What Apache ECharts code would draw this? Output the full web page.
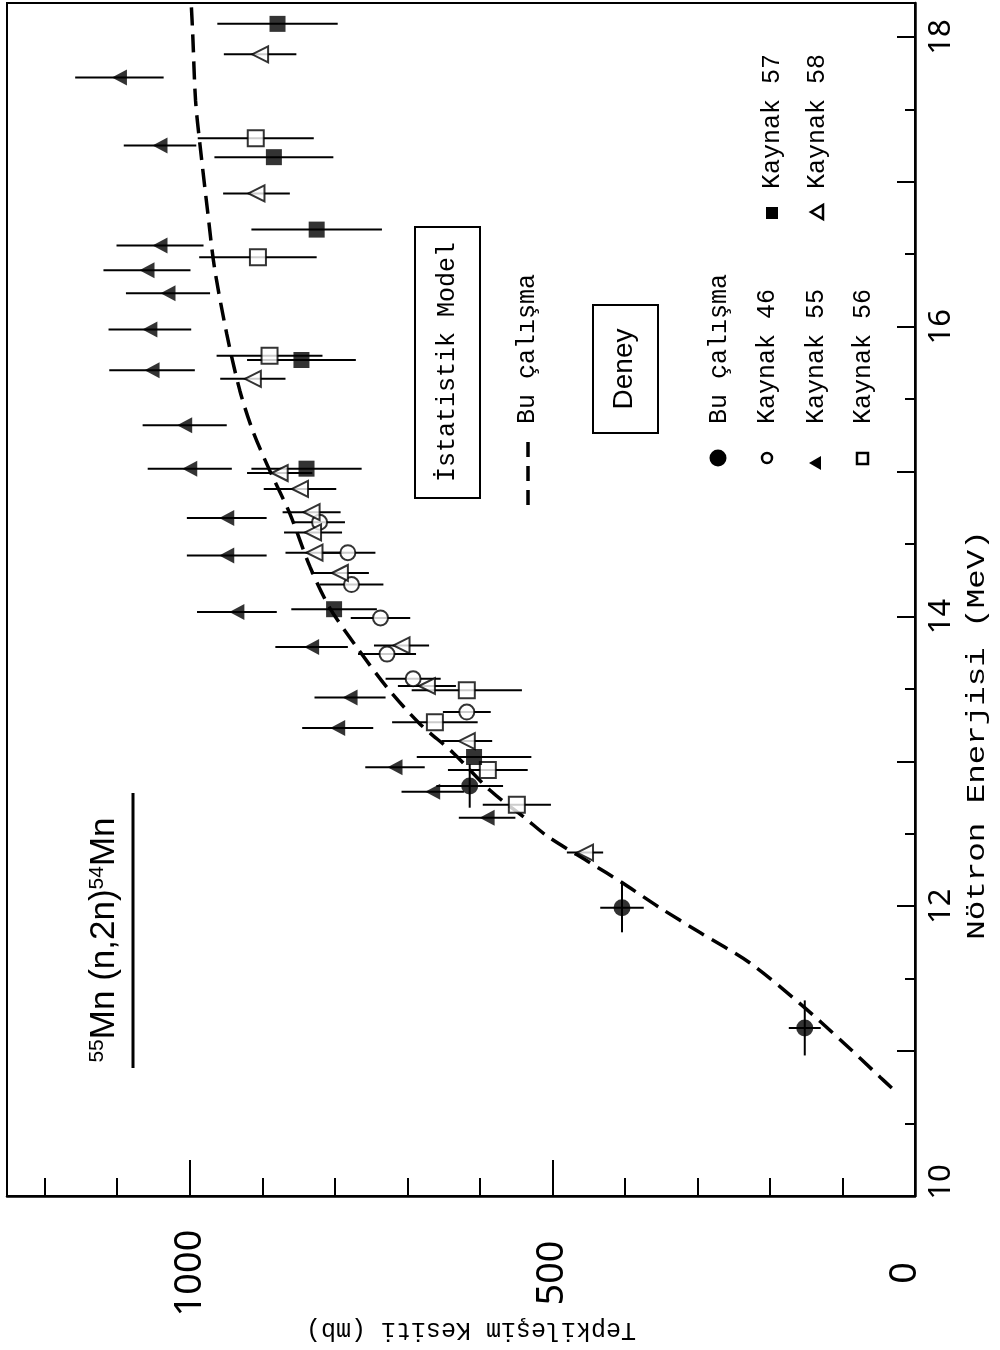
<!DOCTYPE html>
<html>
<head>
<meta charset="utf-8">
<script src="https://cdn.jsdelivr.net/npm/echarts@6/dist/echarts.min.js"></script>
<style>
  html, body { margin: 0; background: #fff; }
  #chart { width: 1000px; height: 1350px; }
</style>
</head>
<body>
<div id="chart"></div>
<script>
// points are [cross section (mb), neutron energy (MeV), error in mb, error in MeV]
const buCalisma = [[152, 11.16, 22, 0.19], [404, 11.99, 30, 0.17], [614, 12.83, 46, 0.15]];
const kaynak46 = [[821, 14.65, 35], [782, 14.44, 38], [777, 14.22, 44], [737, 13.99, 41],
  [728, 13.74, 40], [692, 13.57, 38], [618, 13.34, 33]];
const kaynak55 = [[1097, 17.72, 61], [1041, 17.25, 50], [1041, 16.56, 60], [1059, 16.39, 60],
  [1030, 16.23, 58], [1055, 15.98, 57], [1052, 15.70, 59], [1007, 15.32, 58], [1000, 15.02, 58],
  [949, 14.68, 55], [949, 14.42, 55], [935, 14.03, 55], [832, 13.79, 50], [779, 13.44, 49],
  [796, 13.23, 49], [717, 12.96, 41], [665, 12.79, 43], [590, 12.61, 39]];
const kaynak56 = [[909, 17.30, 80], [906, 16.48, 81], [890, 15.80, 73], [618, 13.49, 76],
  [662, 13.27, 59], [589, 12.94, 55], [549, 12.70, 47]];
const kaynak57 = [[879, 18.09, 83], [884, 17.17, 82], [825, 16.67, 90], [846, 15.77, 75],
  [839, 15.02, 76], [801, 14.05, 59], [608, 13.03, 79]];
const kaynak58 = [[903, 17.88, 50], [908, 16.92, 46], [913, 15.64, 45], [876, 14.99, 45],
  [848, 14.88, 50], [832, 14.72, 40], [830, 14.58, 40], [828, 14.44, 40], [793, 14.30, 40],
  [708, 13.80, 38], [673, 13.52, 40], [618, 13.14, 35], [455, 12.37, 25]];

// statistical model curve (dashed)
const modelE = [10.745, 10.82, 11.06, 11.33, 11.61, 11.82, 11.99, 12.16, 12.30, 12.48, 12.61,
  12.80, 13.06, 13.26, 13.51, 13.79, 14.06, 14.34, 14.71, 15.01, 15.28, 15.56, 15.95, 16.41,
  16.78, 17.26, 17.56, 18.03, 18.23];
const modelS = [32, 48, 99, 159, 228, 297, 352, 403, 448, 506, 538,
  586, 637, 683, 728, 770, 807, 834, 862, 890, 913, 931, 949, 966,
  975, 986, 992, 996, 998];

const energyMin = 10, energyMax = 18.234;
const sigmaMin = 0, sigmaMax = 1252;

const mono = "'Liberation Mono', 'DejaVu Sans Mono', monospace";
const sans = "'Liberation Sans', Arial, sans-serif";
const tickFont = "'Noto Sans', 'DejaVu Sans', sans-serif";

const chart = echarts.init(document.getElementById('chart'));

function errorBars(points) {
  return {
    type: 'custom',
    silent: true,
    z: 1,
    data: points.map(p => [p[0], p[1], p[2], p[3] || 0]),
    renderItem: function (params, api) {
      const s = api.value(0), e = api.value(1), ds = api.value(2), de = api.value(3);
      const a = api.coord([s - ds, e]);
      const b = api.coord([s + ds, e]);
      const children = [{
        type: 'line',
        shape: { x1: a[0], y1: a[1], x2: b[0], y2: b[1] },
        style: { stroke: '#000', lineWidth: 2 }
      }];
      if (de) {
        const c = api.coord([s, e - de]);
        const d = api.coord([s, e + de]);
        children.push({
          type: 'line',
          shape: { x1: c[0], y1: c[1], x2: d[0], y2: d[1] },
          style: { stroke: '#000', lineWidth: 2 }
        });
      }
      return { type: 'group', children: children };
    }
  };
}

function markers(name, points, symbol, size, filled, rotate) {
  return {
    name: name,
    type: 'scatter',
    z: 3,
    symbol: symbol,
    symbolSize: size,
    symbolRotate: rotate || 0,
    itemStyle: filled
      ? { color: '#000' }
      : { color: '#fff', borderColor: '#000', borderWidth: 2 },
    data: points.map(p => [p[0], p[1]])
  };
}

const option = {
  animation: false,
  backgroundColor: '#fff',
  grid: {
    left: 7, right: 85, top: 2, bottom: 154,
    show: true, borderColor: '#000', borderWidth: 2
  },
  xAxis: [
    {
      type: 'value', position: 'bottom', inverse: true,
      min: sigmaMin, max: sigmaMax, interval: 100,
      axisLine: { lineStyle: { color: '#000', width: 2.5 } },
      axisTick: { inside: true, length: 18, lineStyle: { color: '#000', width: 2 } },
      axisLabel: { show: false },
      splitLine: { show: false }
    },
    {
      type: 'value', position: 'bottom', inverse: true,
      min: sigmaMin, max: sigmaMax, interval: 500,
      axisLine: { show: false },
      axisTick: { inside: true, length: 36, lineStyle: { color: '#000', width: 2 } },
      axisLabel: {
        rotate: 90, margin: 77, align: 'center', verticalAlign: 'middle',
        fontSize: 38, fontFamily: tickFont, color: '#000',
        formatter: v => (v === 0 ? '{z|0}' : v % 500 === 0 ? String(v) : ''),
        rich: { z: { fontSize: 38, fontFamily: tickFont, color: '#000', padding: [0, 0, 20, 0] } }
      },
      splitLine: { show: false }
    }
  ],
  yAxis: [
    {
      type: 'value', position: 'right',
      min: energyMin, max: energyMax, interval: 0.5,
      axisLine: { lineStyle: { color: '#000', width: 2.5 } },
      axisTick: { inside: true, length: 10, lineStyle: { color: '#000', width: 2 } },
      axisLabel: { show: false },
      splitLine: { show: false }
    },
    {
      type: 'value', position: 'right',
      min: energyMin, max: energyMax, interval: 1,
      axisLine: { show: false },
      axisTick: { inside: true, length: 18, lineStyle: { color: '#000', width: 2 } },
      axisLabel: {
        rotate: 90, margin: 26, align: 'center', verticalAlign: 'middle',
        fontSize: 31, fontFamily: tickFont, color: '#000',
        formatter: v => (v === 10 ? '{t|10}' : Number.isInteger(v) && v % 2 === 0 ? String(v) : ''),
        rich: { t: { fontSize: 31, fontFamily: tickFont, color: '#000', padding: [0, 0, 0, 28] } }
      },
      splitLine: { show: false }
    }
  ],
  series: [
    {
      name: 'Bu çalışma (model)',
      type: 'line',
      z: 2,
      showSymbol: false,
      smooth: 0.3,
      lineStyle: { color: '#000', width: 3.5, type: [18, 9] },
      data: modelE.map((e, i) => [modelS[i], e])
    },
    errorBars(buCalisma),
    errorBars(kaynak46),
    errorBars(kaynak55),
    errorBars(kaynak56),
    errorBars(kaynak57),
    errorBars(kaynak58),
    markers('Bu çalışma', buCalisma, 'circle', 17, true),
    markers('Kaynak 46', kaynak46, 'circle', 15, false),
    markers('Kaynak 55', kaynak55, 'triangle', [16, 15], true, 90),
    markers('Kaynak 56', kaynak56, 'rect', 16, false),
    markers('Kaynak 57', kaynak57, 'rect', 16, true),
    markers('Kaynak 58', kaynak58, 'triangle', [16, 16], false, 90)
  ],
  graphic: [
    // reaction title
    {
      type: 'text', x: 104, y: 940, rotation: Math.PI / 2,
      style: {
        text: '{s|55}{m|Mn (n,2n)}{s|54}{m|Mn}',
        align: 'center', verticalAlign: 'middle', fill: '#000',
        rich: {
          s: { fontSize: 21, fontFamily: sans, verticalAlign: 'top', fill: '#000' },
          m: { fontSize: 35, fontFamily: sans, fill: '#000' }
        }
      }
    },
    { type: 'line', shape: { x1: 133, y1: 793, x2: 133, y2: 1068 }, style: { stroke: '#000', lineWidth: 3 } },

    // axis titles
    {
      type: 'text', x: 471, y: 1330, rotation: Math.PI,
      style: { text: 'Tepkileşim Kesiti (mb)', font: '25px ' + mono, align: 'center', verticalAlign: 'middle', fill: '#000' }
    },
    {
      type: 'text', x: 977, y: 735, rotation: Math.PI / 2, scaleX: 1.3,
      style: { text: 'Nötron Enerjisi (MeV)', font: '25px ' + mono, align: 'center', verticalAlign: 'middle', fill: '#000' }
    },

    // "İstatistik Model" box with dashed legend
    { type: 'rect', shape: { x: 415, y: 227, width: 65, height: 271 }, style: { fill: 'none', stroke: '#000', lineWidth: 2 } },
    {
      type: 'text', x: 447, y: 362, rotation: Math.PI / 2,
      style: { text: 'İstatistik Model', font: '25px ' + mono, align: 'center', verticalAlign: 'middle', fill: '#000' }
    },
    { type: 'line', shape: { x1: 528, y1: 505, x2: 528, y2: 441 }, style: { stroke: '#000', lineWidth: 3.5, lineDash: [15, 9] } },
    {
      type: 'text', x: 527, y: 424, rotation: Math.PI / 2,
      style: { text: 'Bu çalışma', font: '25px ' + mono, align: 'left', verticalAlign: 'middle', fill: '#000' }
    },

    // "Deney" box with marker legend
    { type: 'rect', shape: { x: 593, y: 305, width: 65, height: 128 }, style: { fill: 'none', stroke: '#000', lineWidth: 2 } },
    {
      type: 'text', x: 624, y: 369, rotation: Math.PI / 2,
      style: { text: 'Deney', font: '28px ' + sans, align: 'center', verticalAlign: 'middle', fill: '#000' }
    },

    { type: 'circle', shape: { cx: 718, cy: 458, r: 8.5 }, style: { fill: '#000' } },
    { type: 'text', x: 719, y: 424, rotation: Math.PI / 2,
      style: { text: 'Bu çalışma', font: '25px ' + mono, align: 'left', verticalAlign: 'middle', fill: '#000' } },
    { type: 'circle', shape: { cx: 767, cy: 458, r: 5 }, style: { fill: '#fff', stroke: '#000', lineWidth: 2.5 } },
    { type: 'text', x: 767, y: 424, rotation: Math.PI / 2,
      style: { text: 'Kaynak 46', font: '25px ' + mono, align: 'left', verticalAlign: 'middle', fill: '#000' } },
    { type: 'polygon', shape: { points: [[809, 463], [821, 456], [821, 470]] }, style: { fill: '#000' } },
    { type: 'text', x: 816, y: 424, rotation: Math.PI / 2,
      style: { text: 'Kaynak 55', font: '25px ' + mono, align: 'left', verticalAlign: 'middle', fill: '#000' } },
    { type: 'rect', shape: { x: 857, y: 453, width: 11, height: 11 }, style: { fill: '#fff', stroke: '#000', lineWidth: 2.5 } },
    { type: 'text', x: 863, y: 424, rotation: Math.PI / 2,
      style: { text: 'Kaynak 56', font: '25px ' + mono, align: 'left', verticalAlign: 'middle', fill: '#000' } },

    { type: 'rect', shape: { x: 766, y: 207, width: 12, height: 12 }, style: { fill: '#000' } },
    { type: 'text', x: 772, y: 189, rotation: Math.PI / 2,
      style: { text: 'Kaynak 57', font: '25px ' + mono, align: 'left', verticalAlign: 'middle', fill: '#000' } },
    { type: 'polygon', shape: { points: [[811, 212], [823, 205], [823, 219]] }, style: { fill: '#fff', stroke: '#000', lineWidth: 2.5 } },
    { type: 'text', x: 817, y: 189, rotation: Math.PI / 2,
      style: { text: 'Kaynak 58', font: '25px ' + mono, align: 'left', verticalAlign: 'middle', fill: '#000' } }
  ]
};

chart.setOption(option);
</script>
</body>
</html>
